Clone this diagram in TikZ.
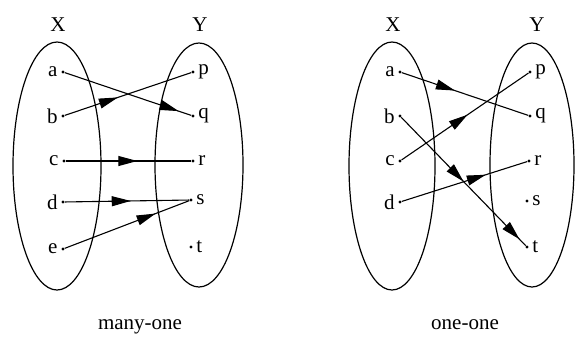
\documentclass[tikz,border=0pt]{standalone}
\usepackage{fontspec}
\setmainfont{Liberation Serif}
\usetikzlibrary{arrows.meta, decorations.markings}

\begin{document}
\begin{tikzpicture}[x=1pt, y=-1pt,
          elem/.style={circle, fill=black, inner sep=0pt, minimum size=3.4pt,
                       label distance=2pt},
          setname/.style={font=\fontsize{21}{23}\selectfont},
          maparr/.style={line width=1.1pt,
                         decoration={markings, mark=at position #1 with
                           {\arrow{Triangle[length=19pt, width=10pt]}}},
                         postaction={decorate}},
          maparrtwo/.style 2 args={line width=1.1pt,
                         decoration={markings,
                           mark=at position #1 with {\arrow{Triangle[length=19pt, width=10pt]}},
                           mark=at position #2 with {\arrow{Triangle[length=19pt, width=10pt]}}},
                         postaction={decorate}},
          every label/.style={font=\fontsize{21}{23}\selectfont}
        ]
        \useasboundingbox (0,0) rectangle (575,343);

        % many-one
        \node[setname] (mxn) at (58,25) {X};
        \node[setname] (myn) at (200,25) {Y};
        \draw[line width=1.2pt] (57,166) ellipse [x radius=44pt, y radius=124pt];
        \draw[line width=1.2pt] (199,165) ellipse [x radius=44pt, y radius=122pt];

        \node[elem, label=left:a]  (ma) at (63,72)  {};
        \node[elem, label=left:b]  (mb) at (63,116) {};
        \node[elem, label=left:c]  (mc) at (64,161) {};
        \node[elem, label=left:d]  (md) at (63,202) {};
        \node[elem, label=left:e]  (me) at (63,249) {};
        \node[elem, label=right:p] (mp) at (193,72)  {};
        \node[elem, label=right:q] (mq) at (193,116) {};
        \node[elem, label=right:r] (mr) at (193,161) {};
        \node[elem, label=right:s] (ms) at (191,200) {};
        \node[elem, label=right:t] (mt) at (191,247) {};

        \draw[maparr=0.9]  (ma) -- (mq);
        \draw[maparr=0.42] (mb) -- (mp);
        \draw[maparr=0.57] (mc) -- (mr);
        \draw[maparr=0.53] (md) -- (ms);
        \draw[maparr=0.73] (me) -- (ms);

        \node[setname] (mcap) at (140,327) {many-one};

        % one-one
        \node[setname] (oxn) at (393,25) {X};
        \node[setname] (oyn) at (537,25) {Y};
        \draw[line width=1.2pt] (392,166) ellipse [x radius=43pt, y radius=124pt];
        \draw[line width=1.2pt] (532,165) ellipse [x radius=42pt, y radius=122pt];

        \node[elem, label=left:a]  (oa) at (400,72)  {};
        \node[elem, label=left:b]  (ob) at (400,116) {};
        \node[elem, label=left:c]  (oc) at (400,161) {};
        \node[elem, label=left:d]  (od) at (400,202) {};
        \node[elem, label=right:p] (op) at (530,72)  {};
        \node[elem, label=right:q] (oq) at (530,116) {};
        \node[elem, label=right:r] (or) at (529,161) {};
        \node[elem, label=right:s] (os) at (527,201) {};
        \node[elem, label=right:t] (ot) at (527,247) {};

        \draw[maparr=0.42] (oa) -- (oq);
        \draw[maparr=0.52] (oc) -- (op);
        \draw[maparrtwo={0.5}{0.95}] (ob) -- (ot);
        \draw[maparr=0.67] (od) -- (or);

        \node[setname] (ocap) at (465,325) {one-one};
\end{tikzpicture}
\end{document}
